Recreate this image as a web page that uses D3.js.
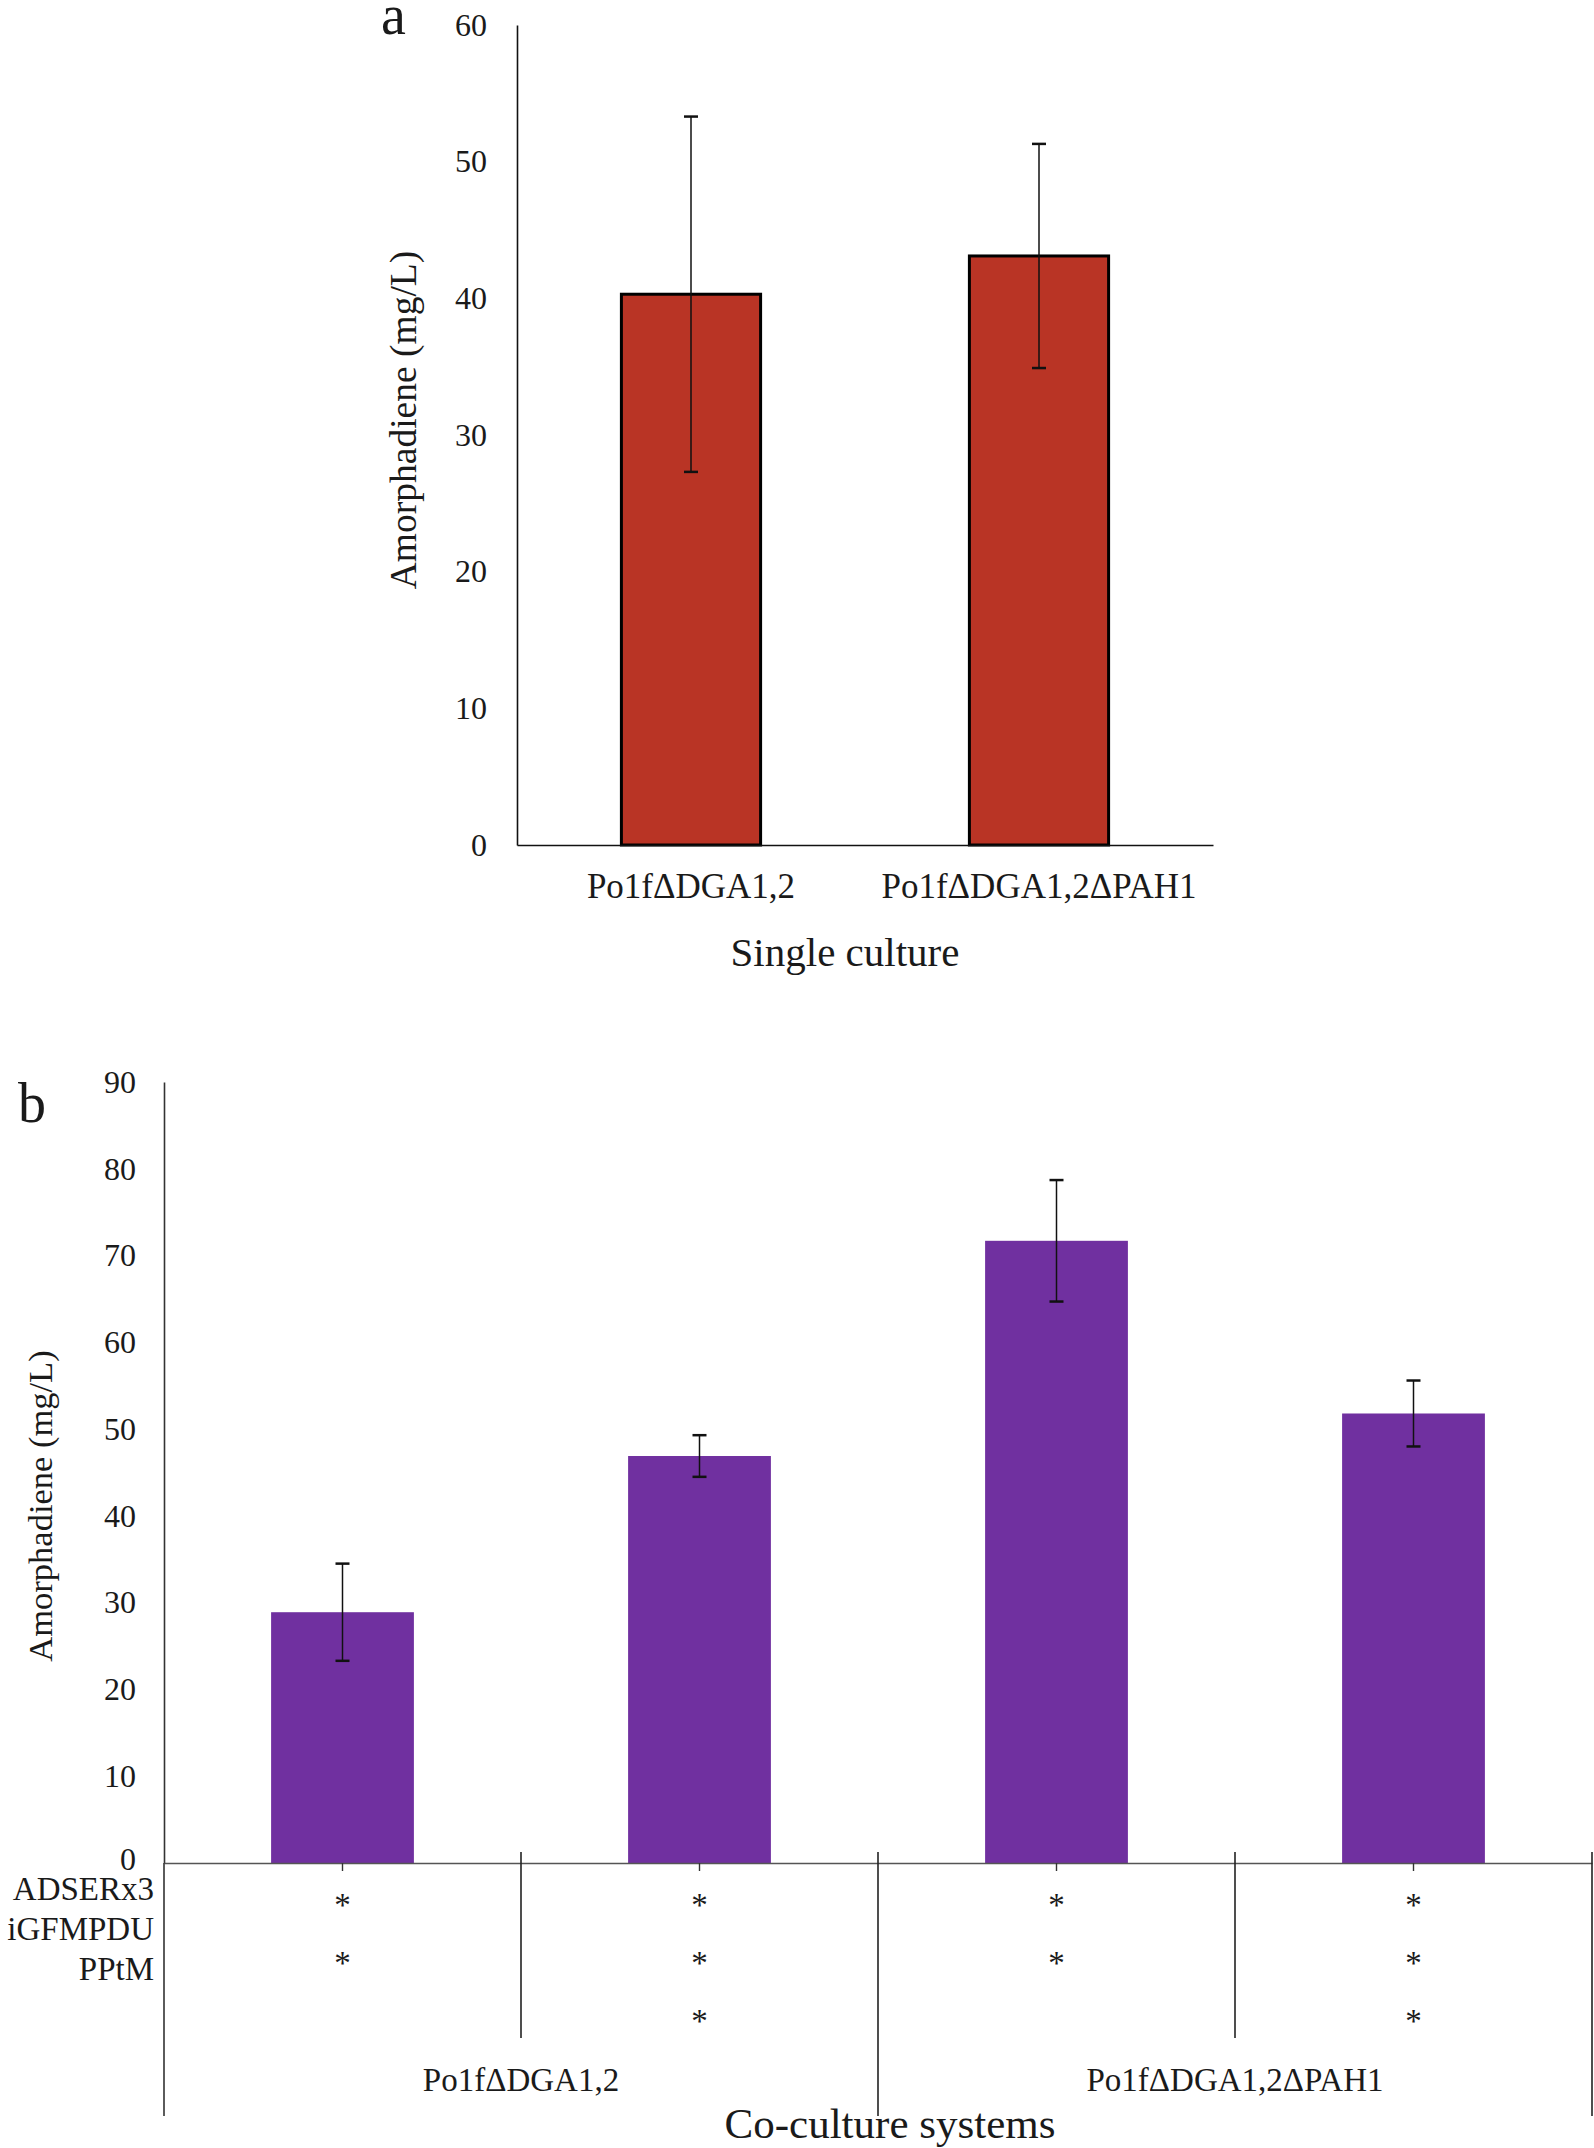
<!DOCTYPE html>
<html><head><meta charset="utf-8">
<script src="https://cdn.jsdelivr.net/npm/d3@7"></script>
<style>
body{margin:0;background:#fff}
svg text{font-family:"Liberation Serif","Times New Roman",serif;fill:#1a1a1a}
</style>
</head><body>
<svg id="chart" width="1594" height="2148"></svg>
<script>
// ---------- Data ----------
const singleCategories = ["Po1fΔDGA1,2", "Po1fΔDGA1,2ΔPAH1"];
const singleValues = [40.3, 43.1];
const singleErrors = [13.0, 8.2];
const singleTicks = [0, 10, 20, 30, 40, 50, 60];

const coBars = ["b1", "b2", "b3", "b4"];
const coValues = [28.9, 46.9, 71.7, 51.8];
const coErrors = [5.6, 2.4, 7.0, 3.8];
const coTicks = [0, 10, 20, 30, 40, 50, 60, 70, 80, 90];
const strainRows = ["ADSERx3", "iGFMPDU", "PPtM"];
const asteriskMarks = [[1, 1, 0], [1, 1, 1], [1, 1, 0], [1, 1, 1]];
const hostGroups = ["Po1fΔDGA1,2", "Po1fΔDGA1,2ΔPAH1"];

const svg = d3.select("#chart");
const RED = "#B93425", PURPLE = "#7030A0";

// ---------- Panel a ----------
const ax0 = 517, ax1 = 1213, ay0 = 845, ay1 = 25;
const xA = d3.scaleBand().domain(singleCategories).range([ax0, ax1]).paddingInner(0.6).paddingOuter(0.3);
const yA = d3.scaleLinear().domain([0, 60]).range([ay0, ay1]);
const gA = svg.append("g");

gA.append("text").attr("x", 381).attr("y", 34).attr("font-size", 56).text("a");

const yAxisA = gA.append("g").attr("transform", `translate(${ax0},0)`)
  .call(d3.axisLeft(yA).tickValues(singleTicks).tickSize(0).tickSizeOuter(0).tickPadding(30));
yAxisA.select(".domain").attr("stroke", "#111").attr("stroke-width", 1.6);
yAxisA.selectAll("text").attr("font-size", 32).attr("font-family", "Liberation Serif").attr("fill", "#1a1a1a");

gA.selectAll("rect.bar").data(singleValues).join("rect")
  .attr("x", (d, i) => xA(singleCategories[i]))
  .attr("width", xA.bandwidth())
  .attr("y", d => yA(d))
  .attr("height", d => yA(0) - yA(d))
  .attr("fill", RED).attr("stroke", "#000").attr("stroke-width", 3);

const xAxisA = gA.append("g").attr("transform", `translate(0,${ay0})`)
  .call(d3.axisBottom(xA).tickSize(0).tickSizeOuter(0).tickPadding(28));
xAxisA.select(".domain").attr("stroke", "#111").attr("stroke-width", 1.6);
xAxisA.selectAll("text").attr("font-size", 35).attr("font-family", "Liberation Serif").attr("fill", "#1a1a1a");

singleValues.forEach((v, i) => {
  const cx = xA(singleCategories[i]) + xA.bandwidth() / 2;
  const e = singleErrors[i];
  gA.append("line").attr("x1", cx).attr("x2", cx).attr("y1", yA(v + e)).attr("y2", yA(v - e)).attr("stroke", "#111").attr("stroke-width", 1.5);
  [v + e, v - e].forEach(t => gA.append("line").attr("x1", cx - 7).attr("x2", cx + 7).attr("y1", yA(t)).attr("y2", yA(t)).attr("stroke", "#111").attr("stroke-width", 2.5));
});

gA.append("text").attr("x", 845).attr("y", 966).attr("text-anchor", "middle").attr("font-size", 41).text("Single culture");
gA.append("text").attr("transform", `translate(416,420) rotate(-90)`).attr("text-anchor", "middle").attr("font-size", 37.5).text("Amorphadiene (mg/L)");

// ---------- Panel b ----------
const bx0 = 164, bx1 = 1592, by0 = 1863, by1 = 1082;
const xB = d3.scaleBand().domain(coBars).range([bx0, bx1]).paddingInner(0.6).paddingOuter(0.3);
const yB = d3.scaleLinear().domain([0, 90]).range([by0, by1]);
const gB = svg.append("g");

gB.append("text").attr("x", 18).attr("y", 1122).attr("font-size", 56).text("b");

gB.selectAll("rect.bar").data(coValues).join("rect")
  .attr("x", (d, i) => xB(coBars[i]))
  .attr("width", xB.bandwidth())
  .attr("y", d => yB(d))
  .attr("height", d => yB(0) - yB(d))
  .attr("fill", PURPLE);

const yAxisB = gB.append("g").attr("transform", `translate(${bx0},0)`)
  .call(d3.axisLeft(yB).tickValues(coTicks).tickSize(0).tickSizeOuter(0).tickPadding(28));
yAxisB.select(".domain").attr("stroke", "#333").attr("stroke-width", 1.6);
yAxisB.selectAll("text").attr("font-size", 32).attr("font-family", "Liberation Serif").attr("fill", "#1a1a1a");
yAxisB.selectAll(".tick").filter(d => d === 0).select("text").attr("dy", "0.2em");

const xAxisB = gB.append("g").attr("transform", `translate(0,${by0})`)
  .call(d3.axisBottom(xB).tickSize(8).tickSizeOuter(0).tickFormat(""));
xAxisB.select(".domain").attr("stroke", "#555").attr("stroke-width", 1.6);
xAxisB.selectAll(".tick line").attr("stroke", "#333").attr("stroke-width", 1.4);

coValues.forEach((v, i) => {
  const cx = xB(coBars[i]) + xB.bandwidth() / 2;
  const e = coErrors[i];
  gB.append("line").attr("x1", cx).attr("x2", cx).attr("y1", yB(v + e)).attr("y2", yB(v - e)).attr("stroke", "#111").attr("stroke-width", 1.5);
  [v + e, v - e].forEach(t => gB.append("line").attr("x1", cx - 7).attr("x2", cx + 7).attr("y1", yB(t)).attr("y2", yB(t)).attr("stroke", "#111").attr("stroke-width", 2.5));
});

// table below axis
const step = xB.step();
const lineBottom = 2116;
gB.append("line").attr("x1", bx0).attr("x2", bx0).attr("y1", by0).attr("y2", lineBottom).attr("stroke", "#333").attr("stroke-width", 1.6);
[1, 2, 3, 4].forEach(k => {
  const x = bx0 + k * step;
  const long = (k % 2 === 0);
  gB.append("line").attr("x1", x).attr("x2", x).attr("y1", by0 - 11).attr("y2", long ? lineBottom : 2038)
    .attr("stroke", "#222").attr("stroke-width", 1.6);
});

strainRows.forEach((s, r) => {
  gB.append("text").attr("x", 154).attr("y", 1900 + r * 40).attr("text-anchor", "end").attr("font-size", 33).text(s);
});
const asteriskY = [1916, 1974, 2032];
asteriskMarks.forEach((marks, i) => {
  const cx = xB(coBars[i]) + xB.bandwidth() / 2;
  marks.forEach((m, r) => {
    if (m) gB.append("text").attr("x", cx).attr("y", asteriskY[r]).attr("text-anchor", "middle").attr("font-size", 33).text("*");
  });
});

hostGroups.forEach((h, gi) => {
  const cx = bx0 + (gi * 2 + 1) * step;
  gB.append("text").attr("x", cx).attr("y", 2091).attr("text-anchor", "middle").attr("font-size", 33).text(h);
});

gB.append("text").attr("x", 890).attr("y", 2138).attr("text-anchor", "middle").attr("font-size", 43).text("Co-culture systems");
gB.append("text").attr("transform", `translate(52,1506) rotate(-90)`).attr("text-anchor", "middle").attr("font-size", 34.5).text("Amorphadiene (mg/L)");
</script>
</body></html>
